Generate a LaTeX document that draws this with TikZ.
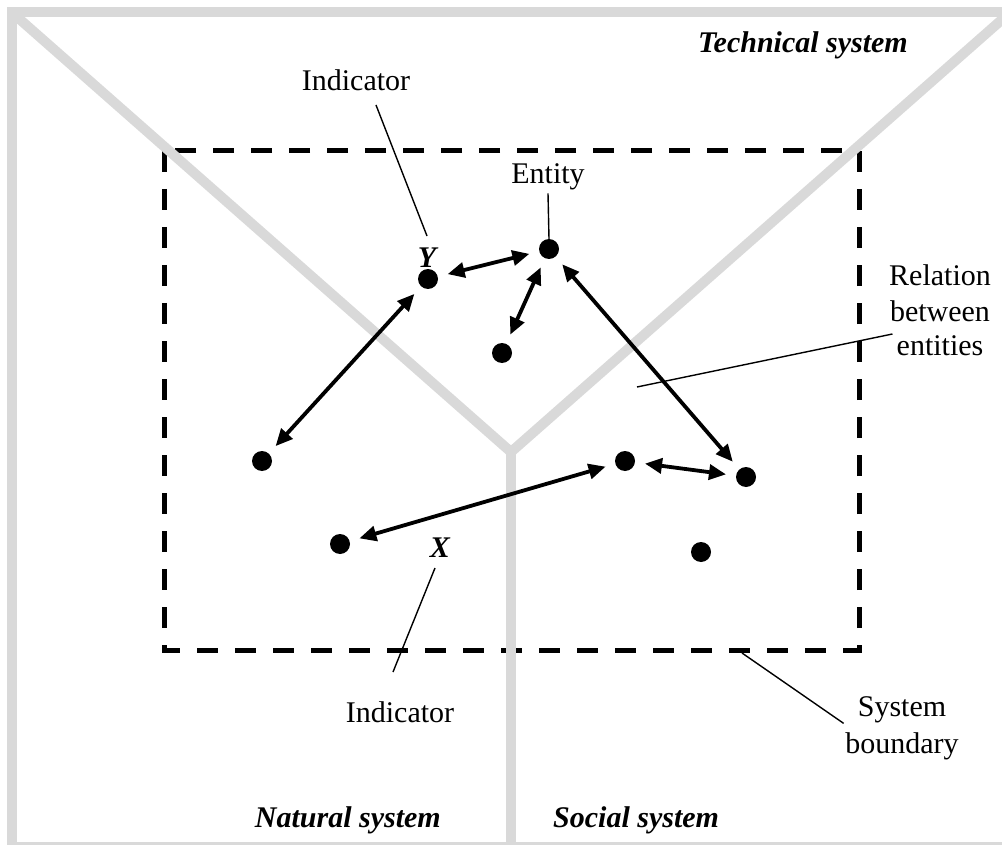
\documentclass[tikz,border=0pt]{standalone}
\usepackage{fontspec}
\setmainfont{Liberation Serif}
\usetikzlibrary{arrows.meta}
\definecolor{sysgray}{HTML}{D9D9D9}
\begin{document}
\begin{tikzpicture}[x=1pt,y=-1pt,
  sysline/.style={draw=sysgray,line width=10pt},
  boundary/.style={draw=black,line width=5pt,dash pattern=on 21pt off 17pt},
  dot/.style={circle,fill=black,inner sep=0pt,minimum size=20pt},
  rel/.style={{Triangle[length=17pt,width=15pt]}-{Triangle[length=17pt,width=15pt]},
    line width=3.8pt,shorten <=10pt,shorten >=10pt},
  lead/.style={draw=black,line width=1.4pt},
  lbl/.style={inner sep=0pt,font=\fontsize{30}{35.5}\selectfont},
  var/.style={inner sep=0pt,font=\fontsize{30}{35.5}\selectfont\bfseries\itshape},
  sysname/.style={inner sep=0pt,font=\fontsize{30}{35.5}\selectfont\bfseries\itshape}
]
\useasboundingbox (0,0) rectangle (1002,845);

% system boundary
\draw[boundary] (164,151) rectangle (859,650);

% frame and the three subsystem sectors
\begin{scope}
  \clip (0,0) rectangle (1002,845);
  \draw[sysline] (12,12.5) rectangle (1007,847);
  \draw[sysline,line join=miter] (12,12.5) -- (511,452) -- (1010,12.5);
  \draw[sysline] (511,452) -- (511,850);
\end{scope}

% entities
\node[dot] (y) at (428,279) {};
\node[dot] (e) at (549,249) {};
\node[dot] (c) at (502,353) {};
\node[dot] (w) at (262,461) {};
\node[dot] (m) at (625,461) {};
\node[dot] (r) at (746,477) {};
\node[dot] (x) at (340,544) {};
\node[dot] (s) at (701,552) {};

% relations
\draw[rel] (y) -- (e);
\draw[rel] (e) -- (c);
\draw[rel] (y) -- (w);
\draw[rel] (e) -- (r);
\draw[rel] (m) -- (r);
\draw[rel] (x) -- (m);

% labels
\node[lbl] (ind1) at (356,80) {Indicator};
\node[lbl] (ent) at (548,177) {Entity};
\node[var] (ylab) at (427,258) {Y};
\node[var] (xlab) at (440,548) {X};
\node[lbl] (rel1) at (940,275) {Relation};
\node[lbl] (rel2) at (940,311) {between};
\node[lbl] (rel3) at (940,346) {entities};
\node[lbl] (ind2) at (400,712) {Indicator};
\node[lbl] (sb1) at (902,710) {System};
\node[lbl] (sb2) at (902,746) {boundary};
\node[sysname,anchor=east] (tech) at (908,45) {Technical system};
\node[sysname,anchor=east] (nat) at (441,820) {Natural system};
\node[sysname,anchor=west] (soc) at (553,820) {Social system};

% leader lines
\coordinate (relpt) at (637,387);
\coordinate (sbpt) at (742,653);
\draw[lead] ([shift={(20,25)}]ind1.center) -- ([shift={(0,-22)}]ylab.center);
\draw[lead] ([shift={(0,3)}]ent.south) -- (e.north);
\draw[lead] ([shift={(-4,-12)}]rel3.west) -- (relpt);
\draw[lead] ([shift={(-5,20)}]xlab.center) -- ([shift={(-7,-40)}]ind2.center);
\draw[lead] (sbpt) -- ([shift={(-14,0)}]sb1.south west);
\end{tikzpicture}
\end{document}
